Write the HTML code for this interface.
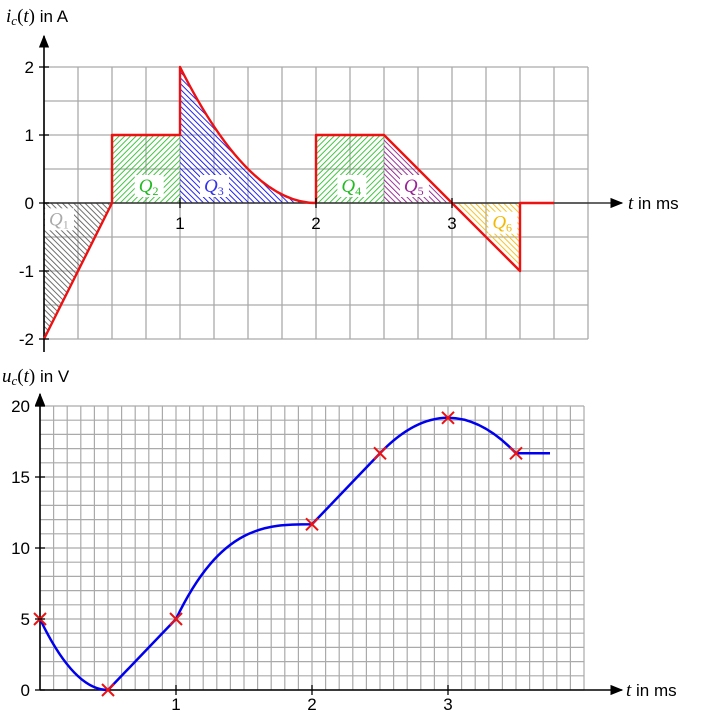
<!DOCTYPE html>
<html><head><meta charset="utf-8"><style>
html,body{margin:0;padding:0;background:#fff;}
svg{display:block;font-family:"Liberation Sans",sans-serif;}
.m{font-family:"Liberation Serif",serif;font-style:italic;}
</style></head><body>
<svg id="s" width="702" height="715" viewBox="0 0 702 715" xmlns="http://www.w3.org/2000/svg">
<defs>
<pattern id="hb" width="4" height="4" patternUnits="userSpaceOnUse" patternTransform="rotate(-45)"><line x1="0" y1="0" x2="0" y2="4" stroke="#555" stroke-width="1.7"/></pattern>
<pattern id="hg" width="4" height="4" patternUnits="userSpaceOnUse" patternTransform="rotate(45)"><line x1="0" y1="0" x2="0" y2="4" stroke="#22bb22" stroke-width="1.7"/></pattern>
<pattern id="hbl" width="4" height="4" patternUnits="userSpaceOnUse" patternTransform="rotate(-45)"><line x1="0" y1="0" x2="0" y2="4" stroke="#0000ee" stroke-width="1.7"/></pattern>
<pattern id="hp" width="4" height="4" patternUnits="userSpaceOnUse" patternTransform="rotate(-45)"><line x1="0" y1="0" x2="0" y2="4" stroke="#881188" stroke-width="1.7"/></pattern>
<pattern id="ho" width="4" height="4" patternUnits="userSpaceOnUse" patternTransform="rotate(-45)"><line x1="0" y1="0" x2="0" y2="4" stroke="#f5b800" stroke-width="1.7"/></pattern>
<marker id="ar" viewBox="0 0 10 10" refX="9" refY="5" markerWidth="8" markerHeight="8" orient="auto"><path d="M0,1 L10,5 L0,9 z" fill="#000"/></marker>
</defs>
<g id="topg"></g>
<g id="botg"></g>
</svg>
<script>
// current chart data
const iTimes = [0, 0.5, 0.5, 1, 1, 2, 2, 2.5, 3, 3.5, 3.5, 3.75];
const iValues = [-2, 0, 1, 1, 2, 0, 1, 1, 0, -1, 0, 0];
const iTickX = [1, 2, 3];
const iTickY = [-2, -1, 0, 1, 2];
const qLabels = ["Q1","Q2","Q3","Q4","Q5","Q6"];
const qLabelT = [0.11, 0.77, 1.25, 2.26, 2.72, 3.37];
const qLabelI = [-0.24, 0.25, 0.25, 0.25, 0.25, -0.29];
// voltage chart data
const uTimes = [0, 0.5, 1, 2, 2.5, 3, 3.5];
const uValues = [5, 0, 5, 11.67, 16.67, 19.17, 16.67];
const uSlopeOut = [-20, 10, 20, 10, 10, 0, 0];
const uSlopeIn = [0, 0, 10, 0, 10, 0, -10];
const uEndT = 3.75;
const uTickX = [1, 2, 3];
const uTickY = [0, 5, 10, 15, 20];

const NS = "http://www.w3.org/2000/svg";
function mk(p, tag, a, txt){const e=document.createElementNS(NS,tag);for(const k in a)e.setAttribute(k,a[k]);if(txt!==undefined)e.textContent=txt;p.appendChild(e);return e;}
const xT=t=>44+136*t, yT=i=>203-68*i;
const xB=t=>40+136*t, yB=u=>690-14.2*u;
const gTop=document.getElementById('topg'), gBot=document.getElementById('botg');

// top grid
const gt=mk(gTop,'g',{stroke:'#aaa','stroke-width':1.3});


for(let k=0;k<=16;k++){mk(gt,'line',{x1:xT(k/4),y1:yT(2),x2:xT(k/4),y2:yT(-2)});}
for(let k=-4;k<=4;k++){mk(gt,'line',{x1:xT(0),y1:yT(k/2),x2:xT(4),y2:yT(k/2)});}
// areas
const P=(ts,is)=>ts.map((t,k)=>xT(t)+','+yT(is[k])).join(' ');
const areas=[
 ['q1-area','hb',P([0,0,0.5],[0,-2,0])],
 ['q2-area','hg',P([0.5,0.5,1,1],[0,1,1,0])],
 ['q4-area','hg',P([2,2,2.5,2.5],[0,1,1,0])],
 ['q5-area','hp',P([2.5,2.5,3],[0,1,0])],
 ['q6-area','ho',P([3,3.5,3.5],[0,-1,0])]];
areas.forEach(a=>{const e=mk(gTop,'polygon',{points:a[2],fill:'url(#'+a[1]+')'});

});
const q3=mk(gTop,'path',{d:`M${xT(1)},${yT(0)} L${xT(1)},${yT(2)} Q${xT(1.5)},${yT(0)} ${xT(2)},${yT(0)} Z`,fill:'url(#hbl)'});


// labels
const qCols=['#aaa','#22bb22','#3333ee','#22bb22','#992299','#f5b800'];
qLabels.forEach((q,k)=>{const x=xT(qLabelT[k]),y=yT(qLabelI[k]);
 mk(gTop,'rect',{x:x-14,y:y-11,width:29,height:22,fill:'#fff'});
 const t=mk(gTop,'text',{x:x-10,y:y+6,'font-size':19,fill:qCols[k],class:'m'});
 
 
 t.textContent=q[0];mk(t,'tspan',{'font-size':12,dy:3,'font-style':'normal'},q[1]);});
// axes
const axT=mk(gTop,'line',{x1:xT(0),y1:yT(0),x2:622,y2:yT(0),stroke:'#333','stroke-width':1.6,'marker-end':'url(#ar)'});


const ayT=mk(gTop,'line',{x1:xT(0),y1:352,x2:xT(0),y2:36,stroke:'#000','stroke-width':1.6,'marker-end':'url(#ar)'});


// current curve
let d=`M${xT(iTimes[0])},${yT(iValues[0])}`;
for(let k=1;k<iTimes.length;k++){
 if(iTimes[k-1]===1&&iTimes[k]===2){d+=` Q${xT(1.5)},${yT(0)} ${xT(2)},${yT(iValues[k])}`;}
 else d+=` L${xT(iTimes[k])},${yT(iValues[k])}`;}
const ic=mk(gTop,'path',{d:d,fill:'none',stroke:'#ee1111','stroke-width':2.4,'stroke-linejoin':'round'});


iTickX.forEach(v=>{mk(gTop,'line',{x1:xT(v),y1:yT(0)-5,x2:xT(v),y2:yT(0)+5,stroke:'#000','stroke-width':1.3});
 const t=mk(gTop,'text',{x:xT(v),y:yT(0)+26,'font-size':17,'text-anchor':'middle'},String(v));
 
 });
iTickY.forEach(v=>{mk(gTop,'line',{x1:xT(0)-5,y1:yT(v),x2:xT(0)+5,y2:yT(v),stroke:'#000','stroke-width':1.3});
 const t=mk(gTop,'text',{x:xT(0)-10,y:yT(v)+6,'font-size':17,'text-anchor':'end'},String(v));
 
 });
const tl=mk(gTop,'text',{x:6,y:22,'font-size':17});


tl.innerHTML='<tspan font-family="Liberation Serif" font-style="italic" font-size="19">i</tspan><tspan font-family="Liberation Serif" font-style="italic" font-size="13" dy="3">c</tspan><tspan dy="-3" font-family="Liberation Serif" font-size="19">(</tspan><tspan font-family="Liberation Serif" font-style="italic" font-size="19">t</tspan><tspan font-family="Liberation Serif" font-size="19">)</tspan> in A';
const tx=mk(gTop,'text',{x:628,y:209,'font-size':17});


tx.innerHTML='<tspan font-family="Liberation Serif" font-style="italic" font-size="19">t</tspan> in ms';

// bottom grid
const gb=mk(gBot,'g',{stroke:'#aaa','stroke-width':1.2});


for(let k=0;k<=40;k++){mk(gb,'line',{x1:xB(k/10),y1:yB(20),x2:xB(k/10),y2:yB(0)});}
for(let k=0;k<=20;k++){mk(gb,'line',{x1:xB(0),y1:yB(k),x2:xB(4),y2:yB(k)});}
const axB=mk(gBot,'line',{x1:xB(0),y1:yB(0),x2:622,y2:yB(0),stroke:'#000','stroke-width':1.6,'marker-end':'url(#ar)'});


const ayB=mk(gBot,'line',{x1:xB(0),y1:yB(0),x2:xB(0),y2:394,stroke:'#000','stroke-width':1.6,'marker-end':'url(#ar)'});


// voltage curve (cubic Hermite segments)
let vd=`M${xB(uTimes[0])},${yB(uValues[0])}`;
const segEndT=uTimes.slice(1).concat([uEndT]);
const segEndU=uValues.slice(1).concat([uValues[uValues.length-1]]);
for(let k=0;k<uTimes.length;k++){
 const t0=uTimes[k],t1=segEndT[k],u0=uValues[k],u1=segEndU[k],h=t1-t0;
 const s0=uSlopeOut[k], s1=(k+1<uSlopeIn.length)?uSlopeIn[k+1]:0;
 vd+=` C${xB(t0+h/3)},${yB(u0+s0*h/3)} ${xB(t1-h/3)},${yB(u1-s1*h/3)} ${xB(t1)},${yB(u1)}`;}
const vc=mk(gBot,'path',{d:vd,fill:'none',stroke:'#0000ee','stroke-width':2.5});


uTimes.forEach((t,k)=>{const x=xB(t),y=yB(uValues[k]);
 const g=mk(gBot,'path',{d:`M${x-6},${y-6}L${x+6},${y+6}M${x-6},${y+6}L${x+6},${y-6}`,stroke:'#ee1111','stroke-width':2});
 
 });
uTickX.forEach(v=>{mk(gBot,'line',{x1:xB(v),y1:yB(0)-5,x2:xB(v),y2:yB(0)+5,stroke:'#000','stroke-width':1.3});
 const t=mk(gBot,'text',{x:xB(v),y:yB(0)+20,'font-size':17,'text-anchor':'middle'},String(v));
 
 });
uTickY.forEach(v=>{mk(gBot,'line',{x1:xB(0)-5,y1:yB(v),x2:xB(0)+5,y2:yB(v),stroke:'#000','stroke-width':1.3});
 const t=mk(gBot,'text',{x:xB(0)-10,y:yB(v)+6,'font-size':17,'text-anchor':'end'},String(v));
 
 });
const ul=mk(gBot,'text',{x:2,y:382,'font-size':17});


ul.innerHTML='<tspan font-family="Liberation Serif" font-style="italic" font-size="19">u</tspan><tspan font-family="Liberation Serif" font-style="italic" font-size="13" dy="3">c</tspan><tspan dy="-3" font-family="Liberation Serif" font-size="19">(</tspan><tspan font-family="Liberation Serif" font-style="italic" font-size="19">t</tspan><tspan font-family="Liberation Serif" font-size="19">)</tspan> in V';
const ux=mk(gBot,'text',{x:626,y:696,'font-size':17});


ux.innerHTML='<tspan font-family="Liberation Serif" font-style="italic" font-size="19">t</tspan> in ms';
</script>
</body></html>
